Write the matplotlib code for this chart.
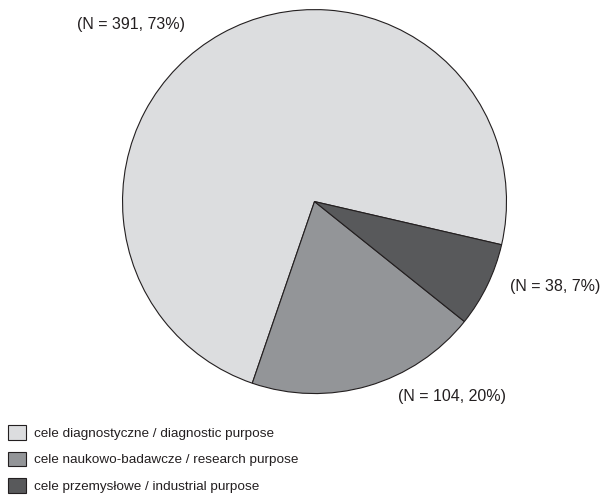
import matplotlib.pyplot as plt
from matplotlib.patches import Patch

# dane
kategorie = ['cele diagnostyczne / diagnostic purpose',
             'cele naukowo-badawcze / research purpose',
             'cele przemysłowe / industrial purpose']
liczby = [391, 104, 38]
procenty = [73, 20, 7]
kolory = ['#dcdddf', '#939598', '#58595b']

plt.rcParams['font.family'] = ['Liberation Sans', 'DejaVu Sans']

fig = plt.figure(figsize=(6.06, 4.96), dpi=100)
ax = fig.add_axes([0.2005, 0.2046, 0.637, 0.778])

wedges, _ = ax.pie(liczby, colors=kolory, startangle=-13, counterclock=True,
                   wedgeprops=dict(edgecolor='#231f20', linewidth=0.8))
ax.set_xlim(-1.005, 1.005)
ax.set_ylim(-1.005, 1.005)
ax.set_aspect('equal')
ax.axis('off')

# etykiety
pozycje = [(77, 24), (398, 397), (510, 287)]
for (x, y), n, p in zip(pozycje, liczby, procenty):
    fig.text(x / 606, 1 - y / 496, f'(N = {n}, {p}%)', fontsize=11.5,
             color='#231f20', ha='left', va='center')

# legenda
uchwyty = [Patch(facecolor=c, edgecolor='#231f20', linewidth=0.8) for c in kolory]
fig.legend(uchwyty, kategorie, loc='upper left', bbox_to_anchor=(-0.006, 0.167),
           frameon=False, fontsize=9.7, handlelength=1.3, handleheight=1.3,
           labelspacing=0.85, handletextpad=0.6, labelcolor='#231f20')

fig.savefig('out.png', dpi=100)
